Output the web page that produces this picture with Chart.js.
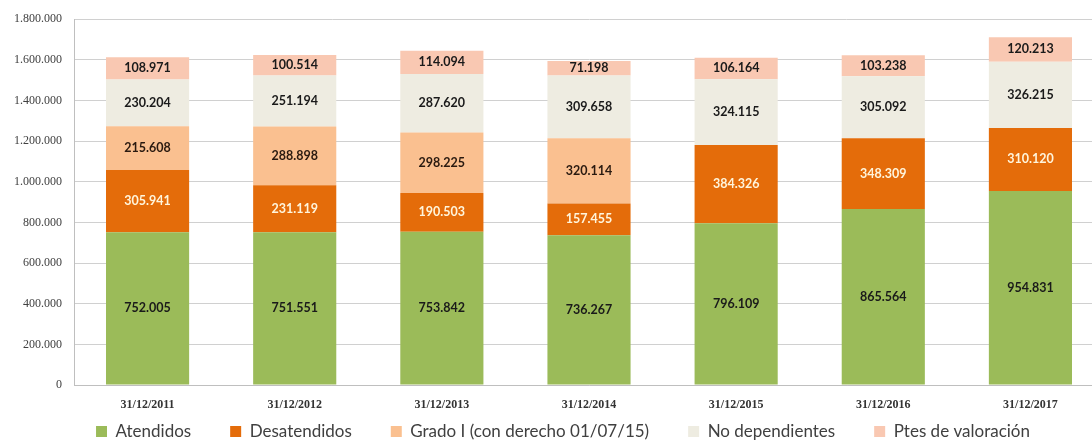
<!DOCTYPE html>
<html lang="es">
<head>
    <meta charset="UTF-8">
    <title>Dependencia</title>
    <script src="https://cdn.jsdelivr.net/npm/chart.js"></script>
    <style>
        body { margin: 0; overflow: hidden; background: #fff; }
        #wrap { position: relative; width: 1104px; height: 441px; }
    </style>
</head>
<body>
    <div id="wrap"><canvas id="chartCanvas"></canvas></div>

    <script>
        var fechas = ['31/12/2011', '31/12/2012', '31/12/2013', '31/12/2014', '31/12/2015', '31/12/2016', '31/12/2017'];
        var atendidos = [752005, 751551, 753842, 736267, 796109, 865564, 954831];
        var desatendidos = [305941, 231119, 190503, 157455, 384326, 348309, 310120];
        var gradoI = [215608, 288898, 298225, 320114, null, null, null];
        var noDependientes = [230204, 251194, 287620, 309658, 324115, 305092, 326215];
        var ptesValoracion = [108971, 100514, 114094, 71198, 106164, 103238, 120213];

        function puntos(v) {
            return String(Math.round(v)).replace(/\B(?=(\d{3})+(?!\d))/g, '.');
        }

        // etiquetas dentro de cada tramo
        var etiquetas = {
            id: 'etiquetas',
            afterLayout: function(chart) {
                // la leyenda va más pegada al borde inferior, con sus huecos anchos
                var lg = chart.legend;
                if (lg) { lg.top = 384; lg.bottom = 441; lg.left += 10; lg.right += 10; }
            },
            afterDatasetsDraw: function(chart) {
                var ctx = chart.ctx;
                ctx.save();
                ctx.font = 'bold 12.5px Lato, sans-serif';
                ctx.textAlign = 'center';
                ctx.textBaseline = 'middle';
                chart.data.datasets.forEach(function(ds, i) {
                    var meta = chart.getDatasetMeta(i);
                    meta.data.forEach(function(bar, j) {
                        var v = ds.data[j];
                        if (!v) return;
                        ctx.fillStyle = ds.labelColor;
                        ctx.fillText(puntos(v), bar.x, (bar.y + bar.base) / 2);
                    });
                });
                ctx.restore();
            }
        };

        var ctx = document.getElementById('chartCanvas').getContext('2d');
        new Chart(ctx, {
            type: 'bar',
            data: {
                labels: fechas,
                datasets: [
                    { label: 'Atendidos', data: atendidos, backgroundColor: '#9bbb59', labelColor: '#1a1a1a' },
                    { label: 'Desatendidos', data: desatendidos, backgroundColor: '#e46c0a', labelColor: '#fff5dc' },
                    { label: 'Grado I (con derecho 01/07/15)', data: gradoI, backgroundColor: '#fac090', labelColor: '#2a1a10' },
                    { label: 'No dependientes', data: noDependientes, backgroundColor: '#eeece1', labelColor: '#1a1a1a' },
                    { label: 'Ptes de valoración', data: ptesValoracion, backgroundColor: '#f9c8b2', labelColor: '#1a1a1a' }
                ]
            },
            options: {
                responsive: true,
                maintainAspectRatio: false,
                animation: false,
                layout: { padding: { top: 14, right: 0, left: 2, bottom: 0 } },
                datasets: { bar: { barPercentage: 0.565, categoryPercentage: 1 } },
                plugins: {
                    legend: {
                        position: 'bottom',
                        maxHeight: 26,
                        labels: {
                            boxWidth: 11, boxHeight: 11, padding: 39,
                            color: '#404040',
                            font: { family: 'Lato, sans-serif', size: 17 }
                        }
                    },
                    tooltip: { enabled: false }
                },
                scales: {
                    x: {
                        stacked: true,
                        grid: { display: false },
                        border: { color: '#bfbfbf' },
                        ticks: { color: '#333', font: { family: '"Liberation Serif", serif', size: 12, weight: 'bold' }, padding: 5 },
                        afterFit: function(scale) { scale.height = 30; }
                    },
                    y: {
                        stacked: true,
                        min: 0, max: 1800000,
                        ticks: {
                            stepSize: 200000,
                            color: '#404040',
                            padding: 12,
                            font: { family: '"Liberation Serif", serif', size: 12 },
                            callback: function(v) { return puntos(v); }
                        },
                        grid: { color: '#d0d0d0', drawTicks: false },
                        border: { color: '#bfbfbf' }
                    }
                }
            },
            plugins: [etiquetas]
        });
    </script>
</body>
</html>
